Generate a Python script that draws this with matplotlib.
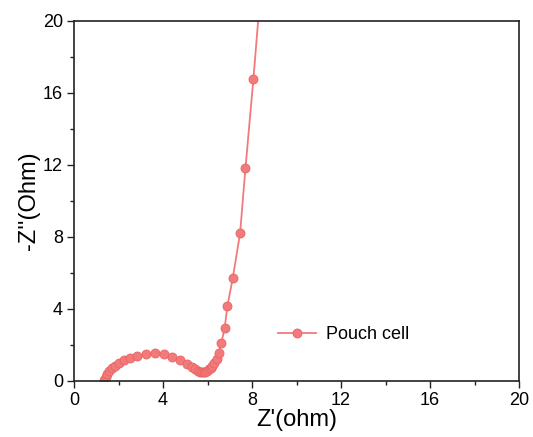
import matplotlib.pyplot as plt
from matplotlib.ticker import MultipleLocator

# ===== DATA (Nyquist plot, pouch cell) =====
z_real = [1.36, 1.42, 1.50, 1.59, 1.70, 1.84, 2.02, 2.24, 2.52, 2.84, 3.22, 3.62,
          4.02, 4.42, 4.78, 5.06, 5.28, 5.44, 5.56, 5.66, 5.74, 5.82, 5.90, 5.98,
          6.06, 6.14, 6.22, 6.30, 6.40, 6.50, 6.62, 6.77, 6.89, 7.13, 7.46, 7.70,
          8.06, 8.50]
z_imag = [0.06, 0.20, 0.36, 0.52, 0.68, 0.84, 0.99, 1.12, 1.25, 1.37, 1.46, 1.51,
          1.48, 1.32, 1.12, 0.92, 0.75, 0.62, 0.53, 0.48, 0.46, 0.47, 0.50, 0.55,
          0.62, 0.72, 0.84, 0.98, 1.22, 1.55, 2.10, 2.95, 4.15, 5.70, 8.20, 11.8,
          16.8, 23.5]
series_label = 'Pouch cell'

plt.rcParams['font.family'] = ['Liberation Sans', 'DejaVu Sans']

fig = plt.figure(figsize=(5.33, 4.37), dpi=100)
ax = fig.add_axes([0.139, 0.129, 0.835, 0.823])

ax.plot(z_real, z_imag, '-o', color='#f27a7a', lw=1.3, markersize=6.5,
        markerfacecolor='#f27a7a', markeredgecolor='#e86464', markeredgewidth=0.6,
        label=series_label)

ax.set_xlim(0, 20)
ax.set_ylim(0, 20)
ax.xaxis.set_major_locator(MultipleLocator(4))
ax.xaxis.set_minor_locator(MultipleLocator(2))
ax.yaxis.set_major_locator(MultipleLocator(4))
ax.yaxis.set_minor_locator(MultipleLocator(2))
ax.tick_params(which='both', direction='out', top=False, right=False,
               labelsize=13, width=1, color='#222222', pad=3)
ax.tick_params(which='major', length=5)
ax.tick_params(which='minor', length=3)
for s in ax.spines.values():
    s.set_linewidth(1.2)
    s.set_color('#222222')

ax.set_xlabel("Z'(ohm)", fontsize=17, labelpad=0)
ax.set_ylabel("-Z''(Ohm)", fontsize=17, labelpad=2)

ax.legend(loc='center left', bbox_to_anchor=(0.458, 0.127), frameon=False,
          fontsize=13, handlelength=2.1, handletextpad=0.55,
          borderaxespad=0, borderpad=0)

plt.savefig('out.png', dpi=100, facecolor='white')
